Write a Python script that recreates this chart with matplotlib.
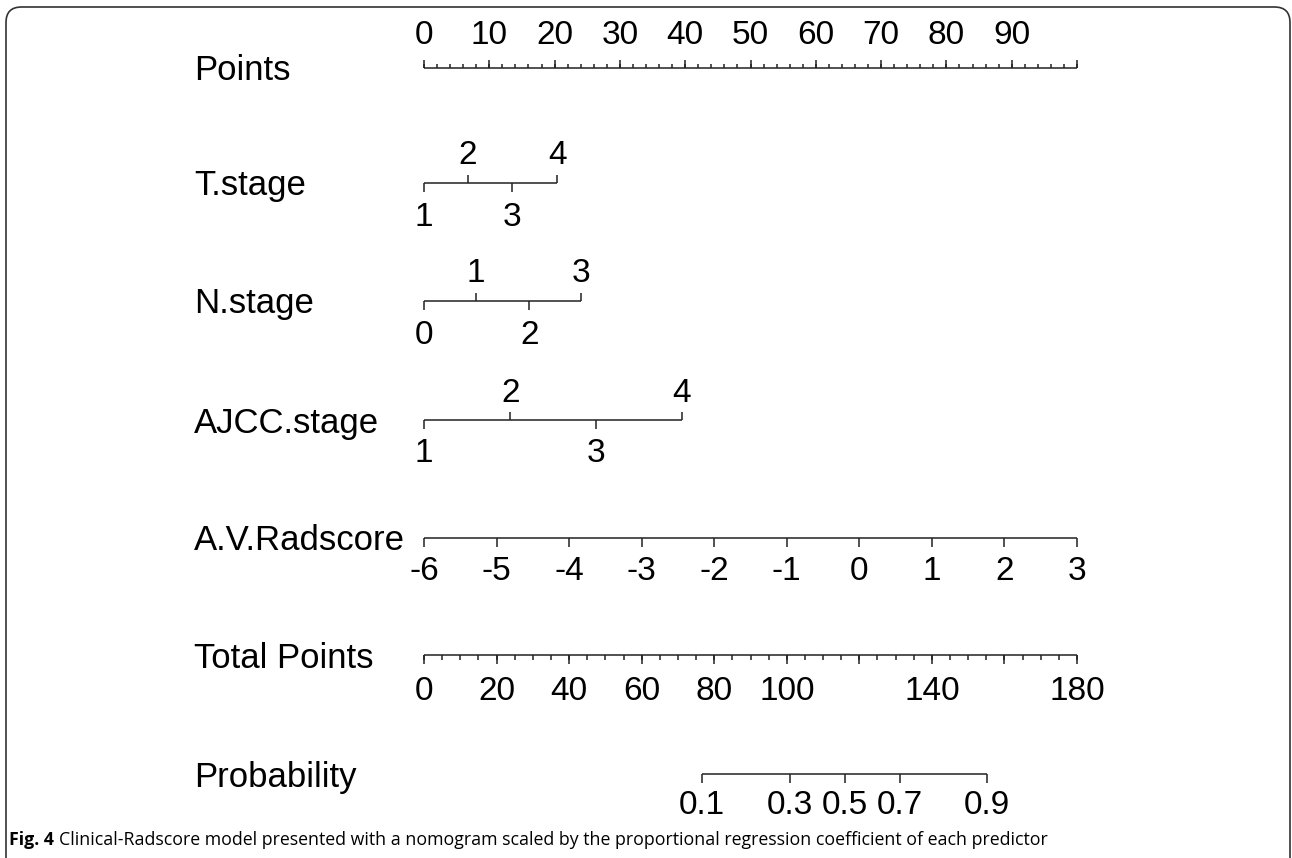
import numpy as np
import matplotlib.pyplot as plt
from matplotlib.patches import FancyBboxPatch

points_major = np.arange(0, 101, 10)
points_minor = np.arange(0, 101, 2)
points_labels = [str(v) for v in range(0, 100, 10)]

t_stage_levels = ["1", "2", "3", "4"]
t_stage_points = [0, 6.7, 13.5, 20.4]

n_stage_levels = ["0", "1", "2", "3"]
n_stage_points = [0, 8.0, 16.1, 24.0]

ajcc_levels = ["1", "2", "3", "4"]
ajcc_points = [0, 13.2, 26.3, 39.5]

radscore_values = np.arange(-6, 4, 1)
radscore_min, radscore_max = -6, 3

total_major = np.arange(0, 181, 20)
total_minor = np.arange(0, 181, 5)
total_labels = [0, 20, 40, 60, 80, 100, 140, 180]
total_max = 180

prob_labels = ["0.1", "0.3", "0.5", "0.7", "0.9"]
prob_total_points = [76.6, 100.9, 116.0, 131.2, 155.2]

row_names = ["Points", "T.stage", "N.stage", "AJCC.stage", "A.V.Radscore",
             "Total Points", "Probability"]

W, H = 1292, 858
fig = plt.figure(figsize=(W / 100, H / 100), dpi=100)
ax = fig.add_axes([0, 0, 1, 1])
# axe x en unites "points" : 0 -> px 424, 100 -> px 1077
px_per_pt = (1077 - 424) / 100
ax.set_xlim(-424 / px_per_pt, (W - 424) / px_per_pt)
ax.set_ylim(H, 0)
ax.axis("off")

FONT = "Liberation Sans"
FS = 24        # etiquettes des graduations
FS_NOM = 25    # noms des lignes
LW = 1.1
COL = "#222222"
TICK = 8.5  # px


def ligne(y, x0, x1):
    ax.plot([x0, x1], [y, y], color=COL, lw=LW, solid_capstyle="butt")


def tick(x, y, long, sens):
    # sens = -1 vers le haut, +1 vers le bas
    ax.plot([x, x], [y, y + sens * long], color=COL, lw=LW, solid_capstyle="butt")


def etiquette(x, y, txt):
    ax.text(x, y, txt, ha="center", va="center", fontsize=FS, family=FONT, color="black")


row_y = [68, 183, 301, 420, 538, 655, 774]
for nom, y in zip(row_names, row_y):
    ax.text((194 - 424) / px_per_pt, y + 3, nom, ha="left", va="center",
            fontsize=FS_NOM, family=FONT, color="black")

# Points
y = row_y[0]
ligne(y, 0, 100)
for v in points_minor:
    tick(v, y, 4.5, -1)
for v in points_major:
    tick(v, y, TICK, -1)
for v, lab in zip(points_major, points_labels):
    etiquette(v, y - 33, lab)


# Variables categorielles : etiquettes alternees dessus / dessous
def categ(y, levels, pts):
    ligne(y, pts[0], pts[-1])
    for i, (lab, p) in enumerate(zip(levels, pts)):
        if i % 2 == 0:
            tick(p, y, TICK, 1)
            etiquette(p, y + 34, lab)
        else:
            tick(p, y, TICK, -1)
            etiquette(p, y - 27, lab)


categ(row_y[1], t_stage_levels, t_stage_points)
categ(row_y[2], n_stage_levels, n_stage_points)
categ(row_y[3], ajcc_levels, ajcc_points)

# A.V.Radscore
y = row_y[4]
rad_pts = (radscore_values - radscore_min) / (radscore_max - radscore_min) * 100
ligne(y, rad_pts[0], rad_pts[-1])
for v, p in zip(radscore_values, rad_pts):
    tick(p, y, TICK, 1)
    etiquette(p, y + 34, str(v))

# Total Points
y = row_y[5]
scale_tot = 100 / total_max
ligne(y, 0, total_max * scale_tot)
for v in total_minor:
    tick(v * scale_tot, y, 4.5, 1)
for v in total_major:
    tick(v * scale_tot, y, TICK, 1)
for v in total_labels:
    etiquette(v * scale_tot, y + 36, str(v))

# Probability
y = row_y[6]
pp = [v * scale_tot for v in prob_total_points]
ligne(y, pp[0], pp[-1])
for p, lab in zip(pp, prob_labels):
    tick(p, y, TICK, 1)
    etiquette(p, y + 31, lab)

# cadre arrondi
cadre = FancyBboxPatch((6 / W, -0.05), (1290 - 6) / W, 1.05 - 7 / H,
                       boxstyle="round,pad=0,rounding_size=0.012",
                       transform=fig.transFigure, fill=False,
                       edgecolor="#333333", lw=1.2, mutation_aspect=W / H)
fig.patches.append(cadre)

# legende
t1 = fig.text(9 / W, 1 - 840 / H, "Fig. 4", ha="left", va="center",
              fontsize=12.8, family="Open Sans", weight="bold")
fig.canvas.draw()
bb = t1.get_window_extent()
fig.text((bb.x1 + 5) / W, 1 - 840 / H,
         "Clinical-Radscore model presented with a nomogram scaled by the proportional "
         "regression coefficient of each predictor",
         ha="left", va="center", fontsize=12.8, family="Open Sans")

fig.savefig("out.png", dpi=100)
